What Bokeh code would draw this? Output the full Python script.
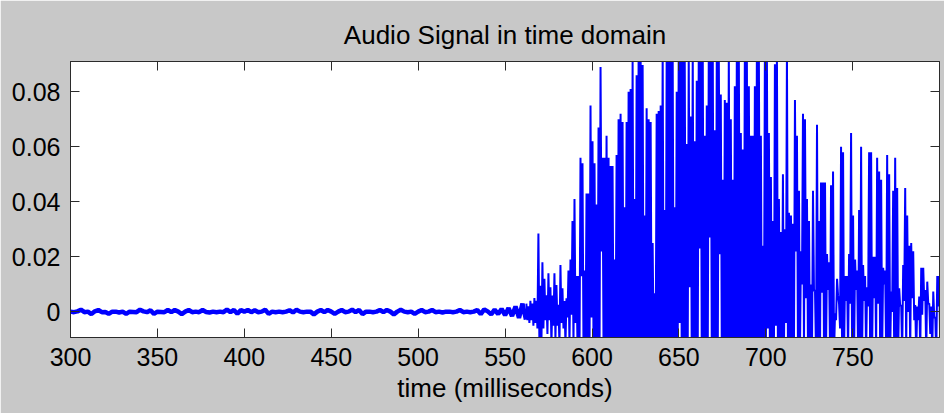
from bokeh.plotting import figure
from bokeh.models import LinearAxis, FixedTicker, Range1d
from bokeh.embed import file_html
from bokeh.resources import INLINE

# ---------------- data ----------------
title_text = "Audio Signal in time domain"
x_label = "time (milliseconds)"
x_ticks = [300, 350, 400, 450, 500, 550, 600, 650, 700, 750]
y_ticks = [0, 0.02, 0.04, 0.06, 0.08]
y_tick_labels = ["0", "0.02", "0.04", "0.06", "0.08"]

# background noise before the onset: one value every 2 ms from 300 ms
noise_t0_ms = 300.0
noise_dt_ms = 2.0
noise_vals = [
    0.0001, -0.0001, 0.0002, 0.0008, -0.0001, 0.0001, -0.0008, 0.0002, 0.0007, -0.0001,
    0.0000, -0.0007, 0.0001, 0.0001, -0.0002, 0.0001, -0.0007, 0.0001, 0.0000, -0.0001,
    0.0008, 0.0002, -0.0001, 0.0006, -0.0007, 0.0001, 0.0000, -0.0001, 0.0007, -0.0001,
    0.0007, 0.0001, -0.0008, 0.0001, 0.0007, -0.0001, 0.0001, -0.0001, 0.0007, 0.0000,
    -0.0002, 0.0001, -0.0001, 0.0001, -0.0001, 0.0008, -0.0001, 0.0007, -0.0007, 0.0007,
    0.0001, 0.0007, -0.0001, 0.0006, -0.0001, 0.0001, 0.0008, -0.0007, 0.0001, -0.0001,
    0.0001, -0.0001, 0.0001, 0.0006, -0.0002, 0.0008, 0.0001, -0.0001, 0.0001, 0.0001,
    -0.0009, 0.0001, 0.0007, -0.0001, 0.0007, 0.0001, -0.0007, 0.0001, 0.0007, -0.0001,
    0.0001, 0.0008, -0.0001, 0.0007, -0.0008, 0.0001, 0.0001, -0.0001, 0.0001, 0.0007,
    -0.0001, 0.0007, 0.0001, -0.0009, 0.0001, 0.0008, 0.0001, -0.0001, 0.0001, -0.0007,
    0.0001, 0.0007, -0.0001, 0.0001, 0.0007, -0.0001, 0.0001, -0.0002, 0.0001, 0.0001,
    -0.0001, 0.0001, 0.0007, -0.0001, 0.0001, -0.0001, 0.0001, 0.0007, -0.0008, 0.0009,
    0.0002, -0.0009, 0.0008, -0.0008, 0.0011, -0.0012, 0.0014, -0.0015, 0.0020, -0.0022,
    0.0030, -0.0028,
]

# voiced part: local maxima / minima of the waveform, one pair every 1.153 ms
voiced_t0_ms = 562.25
voiced_dt_ms = 1.153
peak_vals = [
    0.003, 0.002, 0.004, 0.003, 0.005, 0.004, 0.0285, 0.0095, 0.018, 0.012,
    0.006, 0.014, 0.009, 0.006, 0.014,
    0.0098, 0.0026, 0.017, 0.0086, 0.004, 0.005, 0.015, 0.019, 0.033, 0.041,
    0.013, 0.013, 0.056, 0.054, 0.015, 0.043, 0.043, 0.075, 0.062, 0.054,
    0.039, 0.067, 0.089, 0.056, 0.056, 0.064, 0.056, 0.053, 0.053, 0.019,
    0.057, 0.070, 0.072, 0.069, 0.038, 0.069, 0.080, 0.081, 0.091, 0.041,
    0.086, 0.095, 0.095, 0.0897, 0.035, 0.074, 0.070, 0.069, 0.025, 0.0068,
    0.072, 0.073, 0.075, 0.095, 0.037, 0.095, 0.095, 0.094, 0.093, 0.038,
    0.080, 0.095, 0.095, 0.094, 0.095,
    0.061, 0.095, 0.071, 0.095, 0.062, 0.084, 0.095, 0.095, 0.094, 0.064,
    0.075, 0.095, 0.095, 0.093, 0.066, 0.095, 0.094, 0.079, 0.048, 0.077,
    0.076, 0.095, 0.070, 0.048, 0.082, 0.095, 0.094, 0.065, 0.059, 0.095,
    0.095, 0.082, 0.064, 0.064, 0.082, 0.095, 0.093, 0.064, 0.024, 0.095,
    0.094, 0.065, 0.049, 0.033, 0.090, 0.095, 0.041, 0.029, 0.050, 0.030,
    0.095, 0.036, 0.035, 0.032, 0.077, 0.064, 0.044, 0.022, 0.072, 0.070,
    0.041, 0.033, 0.010, 0.044, 0.008,
    0.068, 0.033, 0.047, 0.047, 0.047, 0.021, 0.018, 0.046, 0.051, -0.0005,
    0.012, 0.003, 0.060, 0.058, 0.013, 0.013, 0.021, 0.065, 0.035, 0.019,
    0.015, 0.037, 0.060, 0.017, 0.013, 0.009, 0.058, 0.058, 0.020, 0.020,
    0.056, 0.051, 0.048, 0.016, 0.015, 0.057, 0.050, 0.0074, 0.044, 0.056,
    0.045, 0.0086, 0.0025, 0.017, 0.045, 0.035, 0.024, 0.025, 0.022, 0.0025,
    0.002, 0.0056, 0.016, 0.016, 0.008, 0.011, 0.003, 0.002, 0.0074, -0.002,
    0.013, 0.013,
]
trough_vals = [
    -0.003, -0.004, -0.003, -0.005, -0.004, -0.006, -0.012, -0.012, -0.006, -0.003,
    -0.008, -0.003, -0.012, -0.005, -0.010,
    -0.005, -0.012, -0.004, -0.006, -0.012, -0.002, -0.012, -0.001, -0.012, -0.004,
    -0.012, -0.015, 0.013, -0.015, -0.015, -0.015, -0.015, -0.002, -0.015, -0.015,
    -0.015, -0.015, 0.022, -0.015, -0.015, -0.015, -0.015, -0.015, -0.015, -0.015,
    -0.015, -0.015, -0.015, -0.015, -0.015, -0.015, -0.015, -0.015, -0.015, -0.015,
    -0.015, -0.015, -0.015, -0.015, -0.015, -0.015, -0.015, -0.015, -0.015, -0.015,
    -0.015, -0.015, -0.015, -0.015, -0.015, -0.015, -0.015, -0.015, -0.015, -0.015,
    -0.015, -0.004, -0.015, -0.015, -0.015,
    -0.015, 0.009, -0.015, -0.015, -0.015, -0.015, 0.023, -0.015, -0.015, -0.015,
    -0.015, 0.027, -0.015, -0.015, -0.015, -0.015, 0.021, -0.015, -0.015, -0.015,
    -0.015, -0.015, -0.015, -0.015, -0.015, -0.015, -0.015, -0.015, -0.015, -0.015,
    -0.015, -0.015, -0.015, -0.015, -0.015, -0.015, -0.015, -0.015, -0.015, -0.015,
    -0.006, -0.015, -0.015, -0.015, -0.005, -0.015, -0.015, -0.015, -0.015, -0.004,
    -0.015, -0.015, -0.015, -0.015, 0.022, -0.015, -0.015, 0.010, -0.015, 0.005,
    -0.015, -0.015, -0.015, 0.0075, -0.015,
    -0.015, -0.015, 0.007, -0.015, -0.015, 0.008, -0.015, -0.015, -0.015, -0.003,
    0.006, -0.006, -0.015, -0.015, 0.004, -0.015, 0.003, -0.015, -0.015, 0.008,
    -0.015, -0.015, -0.015, 0.004, -0.015, 0.002, -0.015, -0.015, 0.005, -0.015,
    0.003, -0.015, -0.015, 0.010, -0.015, -0.015, -0.015, 0.000, -0.015, -0.015,
    -0.015, 0.002, -0.015, 0.004, -0.015, 0.000, -0.015, 0.005, -0.003, -0.015,
    -0.003, -0.015, -0.001, 0.004, -0.015, 0.003, -0.008, -0.015, -0.002, -0.015,
    0.002, -0.015,
]

# ---------------- build series ----------------
noise_t = [noise_t0_ms + i * noise_dt_ms for i in range(len(noise_vals))]
vx, vy = [], []
for i, (hi, lo) in enumerate(zip(peak_vals, trough_vals)):
    t = voiced_t0_ms + i * voiced_dt_ms
    vx += [t, t + voiced_dt_ms / 2]
    vy += [hi, lo]

FONT = "Liberation Sans"
FS = "25px"

p = figure(
    frame_width=869, frame_height=276,
    x_range=Range1d(300, 799.9), y_range=Range1d(-0.0093, 0.0910),
    output_backend="svg", toolbar_location=None,
    min_border_left=70, min_border_right=5, min_border_top=61, min_border_bottom=76,
    title=title_text,
)
p.background_fill_color = "white"
p.border_fill_color = "#c8c8c8"
p.outline_line_color = "#2b2b2b"
p.outline_line_width = 1
p.grid.visible = False

p.title.align = "center"
p.title.text_font = FONT
p.title.text_font_size = "26px"
p.title.text_font_style = "normal"
p.title.text_color = "black"
p.title.standoff = 24

p.line(noise_t, noise_vals, line_color="#0000ff", line_width=4.5)
p.line(vx, vy, line_color="#0000ff", line_width=2)

def style_axis(ax, ticks, show_labels):
    ax.ticker = FixedTicker(ticks=ticks)
    ax.major_tick_in = 9
    ax.major_tick_out = 0
    ax.minor_tick_line_color = None
    ax.axis_line_color = "#2b2b2b"
    ax.major_tick_line_color = "#2b2b2b"
    if show_labels:
        ax.major_label_text_font = FONT
        ax.major_label_text_font_size = FS
        ax.major_label_text_color = "black"
    else:
        ax.major_label_text_font_size = "0px"
        ax.major_label_standoff = 0
        ax.major_label_text_color = None

xb = p.xaxis[0]
style_axis(xb, x_ticks, True)
xb.major_label_standoff = 10
xb.axis_label = x_label
xb.axis_label_text_font = FONT
xb.axis_label_text_font_size = "26px"
xb.axis_label_text_font_style = "normal"
xb.axis_label_text_color = "black"
xb.axis_label_standoff = 4

yl = p.yaxis[0]
style_axis(yl, y_ticks, True)
yl.major_label_standoff = 10
yl.major_label_overrides = {t: s for t, s in zip(y_ticks, y_tick_labels)}

top_ax = LinearAxis()
style_axis(top_ax, x_ticks, False)
p.add_layout(top_ax, "above")
right_ax = LinearAxis()
style_axis(right_ax, y_ticks, False)
p.add_layout(right_ax, "right")

open("out.html", "w").write(file_html(p, INLINE))
